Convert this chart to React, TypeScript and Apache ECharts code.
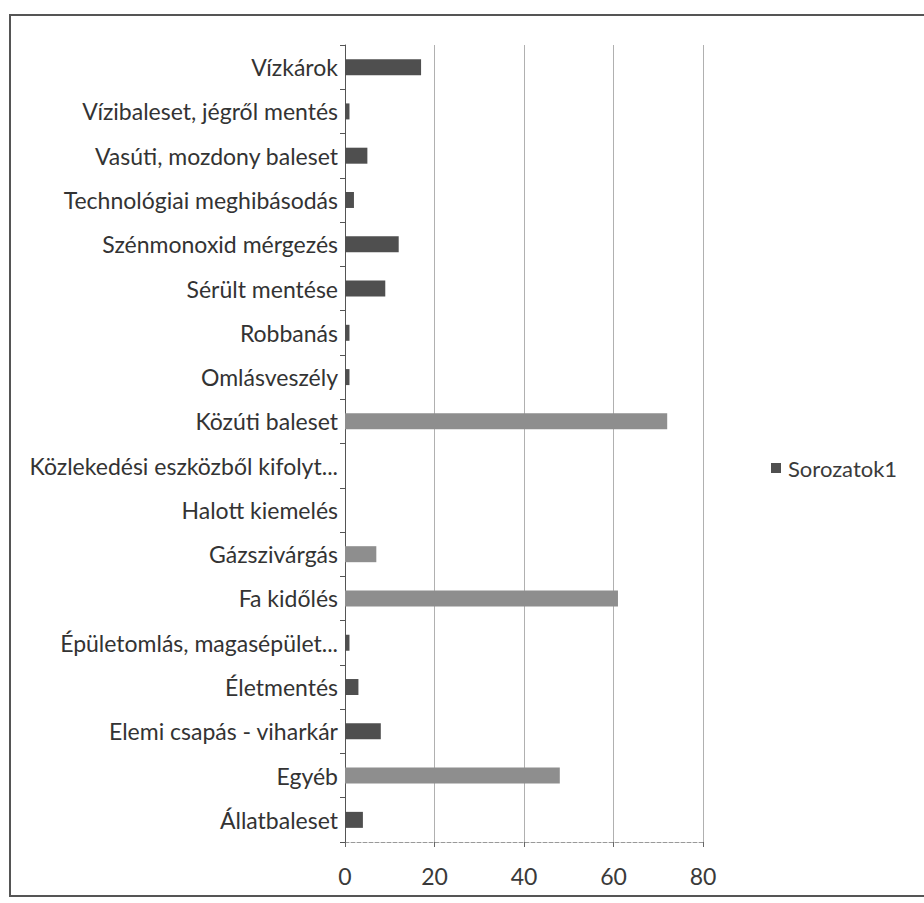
import React, { useEffect, useRef } from "react";
import * as echarts from "echarts";

const categories = [
  "Vízkárok",
  "Vízibaleset, jégről mentés",
  "Vasúti, mozdony baleset",
  "Technológiai meghibásodás",
  "Szénmonoxid mérgezés",
  "Sérült mentése",
  "Robbanás",
  "Omlásveszély",
  "Közúti baleset",
  "Közlekedési eszközből kifolyt...",
  "Halott kiemelés",
  "Gázszivárgás",
  "Fa kidőlés",
  "Épületomlás, magasépület...",
  "Életmentés",
  "Elemi csapás - viharkár",
  "Egyéb",
  "Állatbaleset",
];

const values = [17, 1, 5, 2, 12, 9, 1, 1, 72, 0, 0, 7, 61, 1, 3, 8, 48, 4];

const xTicks = [0, 20, 40, 60, 80];

const seriesName = "Sorozatok1";

const lightCategories = ["Közúti baleset", "Fa kidőlés", "Egyéb", "Gázszivárgás"];

export default function App() {
  const ref = useRef<HTMLDivElement>(null);
  useEffect(() => {
    if (!ref.current) return;
    const chart = echarts.init(ref.current, undefined, { renderer: "svg" });
    const cats = [...categories].reverse();
    const vals = [...values].reverse();
    chart.setOption({
      animation: false,
      backgroundColor: "#ffffff",
      textStyle: { fontFamily: "Lato, 'Open Sans', sans-serif" },
      graphic: [
        {
          type: "rect",
          shape: { x: 10, y: 15, width: 930, height: 881 },
          style: { fill: "none", stroke: "#555", lineWidth: 2 },
          silent: true,
        },
      ],
      grid: { left: 345, right: 221, top: 45, bottom: 61, containLabel: false },
      legend: {
        data: [seriesName],
        left: 766,
        top: 452,
        icon: "rect",
        itemWidth: 10,
        itemHeight: 10,
        itemGap: 4,
        textStyle: { fontSize: 22, color: "#3a3a3a", fontFamily: "Lato, sans-serif", padding: [0, 0, 0, 2] },
      },
      xAxis: {
        type: "value",
        min: xTicks[0],
        max: xTicks[xTicks.length - 1],
        interval: 20,
        axisLine: { show: true, lineStyle: { color: "#999", type: "dashed", width: 1 } },
        axisTick: { show: true, length: 5, lineStyle: { color: "#666" } },
        splitLine: { show: true, lineStyle: { color: "#b0b0b0", width: 1 } },
        axisLabel: { fontSize: 23, color: "#3a3a3a", margin: 22, fontFamily: "Lato, sans-serif" },
      },
      yAxis: {
        type: "category",
        data: cats,
        axisLine: { show: true, lineStyle: { color: "#555", width: 1 } },
        axisTick: { show: true, length: 5, lineStyle: { color: "#555" } },
        axisLabel: {
          fontSize: 23,
          color: "#333",
          margin: 7,
          fontFamily: "Lato, sans-serif",
        },
      },
      series: [
        {
          name: seriesName,
          type: "bar",
          data: vals,
          barWidth: 16,
          itemStyle: {
            color: (p: any) =>
              lightCategories.includes(cats[p.dataIndex]) ? "#8e8e8e" : "#4f4f4f",
          },
        },
      ],
      color: ["#4f4f4f"],
    });
    return () => chart.dispose();
  }, []);
  return <div ref={ref} style={{ width: 924, height: 903, position: "absolute", left: 0, top: 0 }} />;
}
